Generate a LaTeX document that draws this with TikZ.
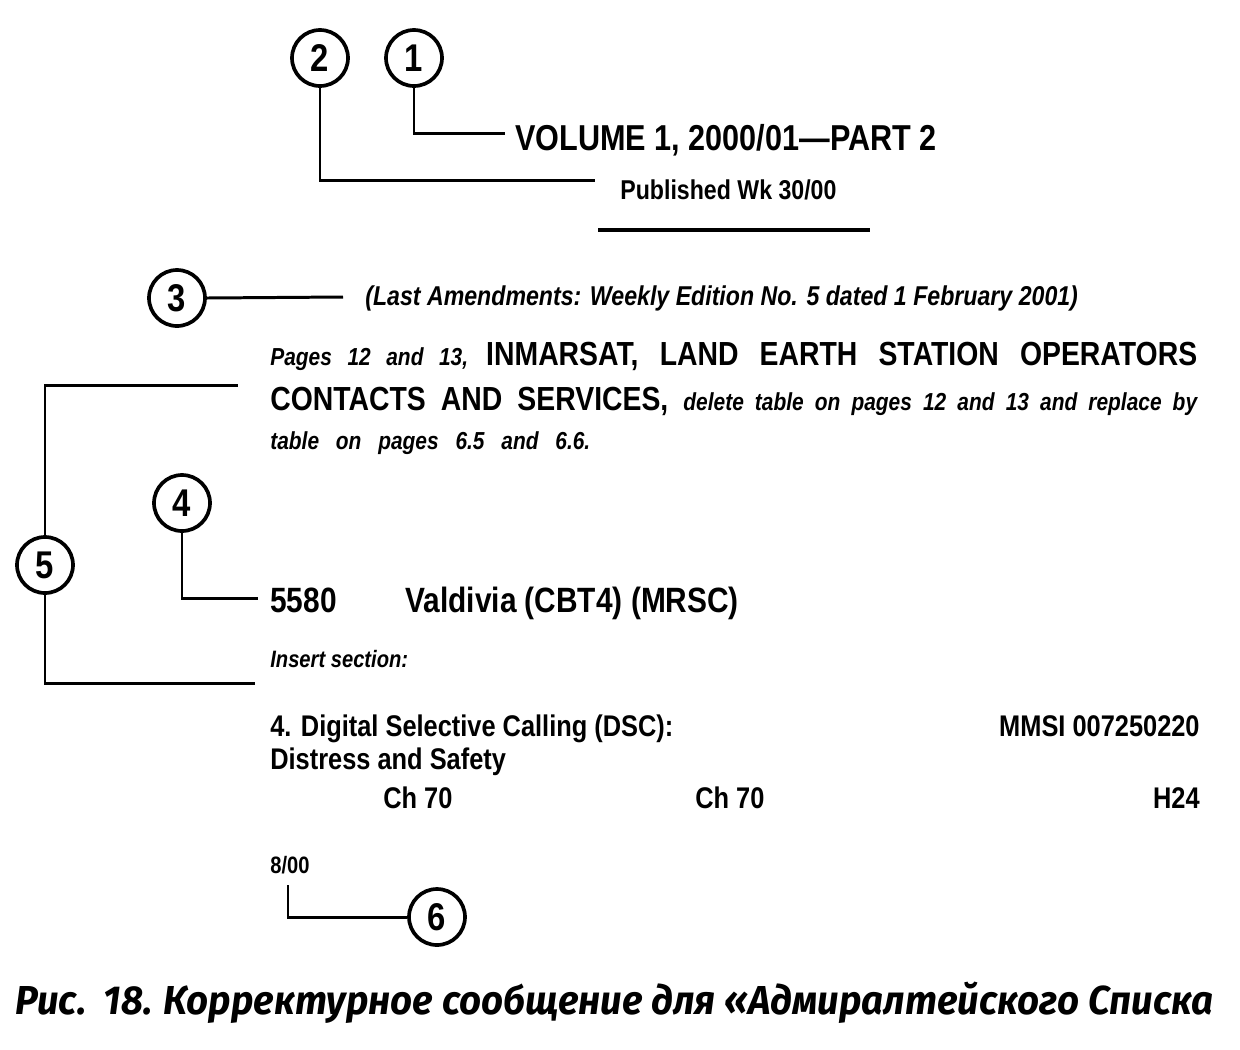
\documentclass[tikz,border=0pt]{standalone}
\usepackage{fontspec}
\setmainfont[FakeStretch=0.85]{Liberation Sans}
\newfontfamily\capfont[FakeStretch=0.95]{Fira Sans}
\usepackage{tikz}

\begin{document}
\begin{tikzpicture}[
            x=0.02cm, y=-0.02cm,
            callout/.style={
                circle,
                draw,
                line width=2.1pt,
                minimum size=1.12cm,
                inner sep=0pt,
                font=\fontsize{22}{26}\selectfont\bfseries
            },
            txt/.style={anchor=base west, inner sep=0pt, font=\bfseries},
            small/.style={txt, font=\fontsize{14}{16}\selectfont\bfseries\itshape},
            leader/.style={line width=1.7pt}
        ]
            \useasboundingbox (0,0) rectangle (1240,1049);

            % callouts
            \node[callout] (c1) at (414,58) {1};
            \node[callout] (c2) at (320,58) {2};
            \node[callout] (c3) at (177,298) {3};
            \node[callout] (c4) at (182,503) {4};
            \node[callout] (c5) at (45,565) {5};
            \node[callout] (c6) at (437,917) {6};

            % header
            \node[txt, font=\fontsize{20.5}{24}\selectfont\bfseries] (vol) at (515,150) {VOLUME 1, 2000/01---PART 2};
            \node[txt, font=\fontsize{15.5}{18}\selectfont\bfseries] (pub) at (620,199) {Published Wk 30/00};
            \draw[line width=2.4pt] (598,230) -- (870,230);

            % amendment
            \node[small, font=\fontsize{15.5}{18}\selectfont\bfseries\itshape] (amend) at (365,305) {(Last Amendments: Weekly Edition No. 5 dated 1 February 2001)};
            \node[txt] (p1) at (270,365) {\makebox[18.54cm][s]{\fontsize{14}{16}\selectfont\itshape Pages 12 and 13, \fontsize{19}{22}\selectfont\upshape INMARSAT, LAND EARTH STATION OPERATORS}};
            \node[txt] (p2) at (270,410) {\makebox[18.54cm][s]{\fontsize{19}{22}\selectfont CONTACTS AND SERVICES, \fontsize{14}{16}\selectfont\itshape delete table on pages 12 and 13 and replace by}};
            \node[txt] (p3) at (270,449) {\makebox[6.4cm][s]{\fontsize{14}{16}\selectfont\itshape table on pages 6.5 and 6.6.}};

            % station
            \node[txt, font=\fontsize{20}{24}\selectfont\bfseries] (num) at (270,612) {5580};
            \node[txt, font=\fontsize{20}{24}\selectfont\bfseries] (name) at (405,612) {Valdivia (CBT4) (MRSC)};
            \node[small, font=\fontsize{13.5}{16}\selectfont\bfseries\itshape] (ins) at (270,667) {Insert section:};

            % new section
            \node[txt, font=\fontsize{17}{20}\selectfont\bfseries] (dsc) at (270,736) {4. Digital Selective Calling (DSC):};
            \node[txt, anchor=base east, font=\fontsize{17}{20}\selectfont\bfseries] (mmsi) at (1200,736) {MMSI 007250220};
            \node[txt, font=\fontsize{17}{20}\selectfont\bfseries] (dist) at (270,769) {Distress and Safety};
            \node[txt, font=\fontsize{17}{20}\selectfont\bfseries] (ch1) at (383,808) {Ch 70};
            \node[txt, font=\fontsize{17}{20}\selectfont\bfseries] (ch2) at (695,808) {Ch 70};
            \node[txt, anchor=base east, font=\fontsize{17}{20}\selectfont\bfseries] (h24) at (1200,808) {H24};
            \node[small, font=\fontsize{13.5}{15}\selectfont\bfseries] (date) at (270,873) {8/00};

            % leader ends
            \coordinate (e1) at (505,133);
            \coordinate (e2) at (595,180);
            \coordinate (e3) at (343,297);
            \coordinate (e4) at (258,598);
            \coordinate (e5a) at (238,385);
            \coordinate (e5b) at (255,683);
            \coordinate (e6) at (288,885);

            % leaders
            \draw[leader] (c1.south) |- (e1);
            \draw[leader] (c2.south) |- (e2);
            \draw[leader] (c3.east) -- (e3);
            \draw[leader] (c4.south) |- (e4);
            \draw[leader] (c5.north) |- (e5a);
            \draw[leader] (c5.south) |- (e5b);
            \draw[leader] (e6) |- (c6.west);

            % caption
            \node[anchor=base west, inner sep=0pt, font=\capfont\fontsize{23}{28}\selectfont\bfseries\itshape] (cap) at (15,1014) {Рис.~~18. Корректурное сообщение для «Адмиралтейского Списка};
        \end{tikzpicture}
\end{document}
